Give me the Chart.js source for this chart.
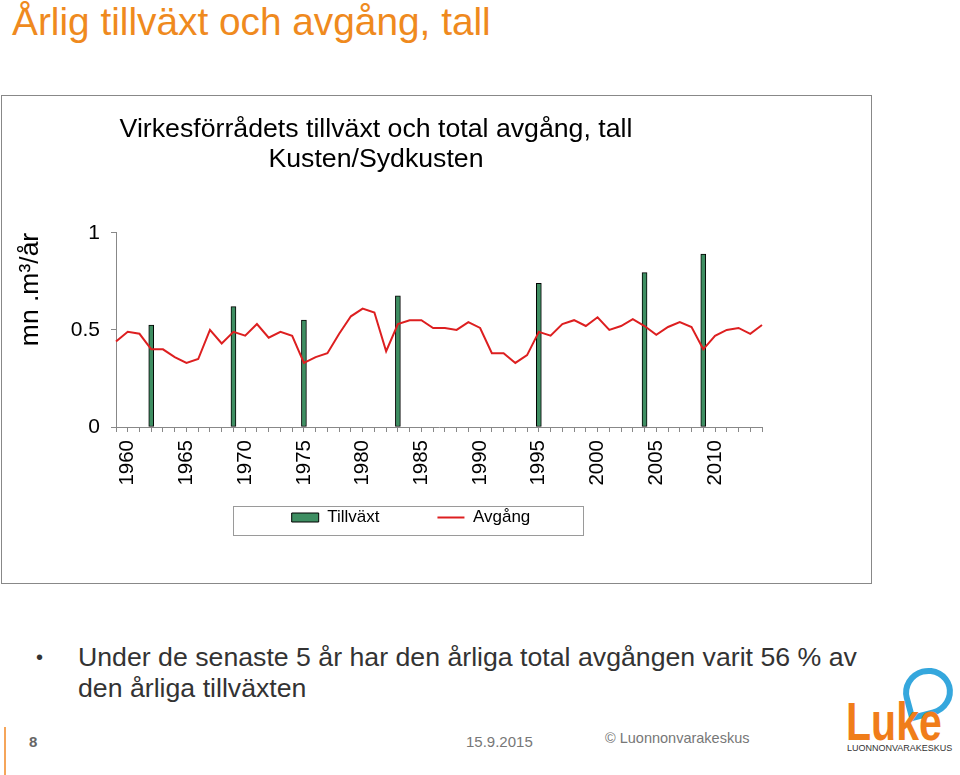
<!DOCTYPE html>
<html><head><meta charset="utf-8">
<script src="https://cdn.jsdelivr.net/npm/chart.js@4.4.1/dist/chart.umd.min.js"></script>
<style>
html,body{margin:0;padding:0;background:#fff;}
body{width:960px;height:775px;position:relative;overflow:hidden;font-family:"Liberation Sans",Arial,sans-serif;}
.abs{position:absolute;white-space:nowrap;}
</style></head><body>
<div class="abs" style="left:12px;top:3px;font-size:38.8px;line-height:38px;color:#EF8A1E;">Årlig tillväxt och avgång, tall</div>
<div class="abs" style="left:1px;top:95px;width:871px;height:489px;box-sizing:border-box;border:1px solid #888;"></div>
<canvas id="c" width="871" height="489" style="position:absolute;left:1px;top:95px;"></canvas>

<div class="abs" style="left:36px;top:642px;font-size:20px;line-height:31px;color:#333;">•</div>
<div class="abs" style="left:78px;top:642px;font-size:26.7px;line-height:31px;color:#333;">Under de senaste 5 år har den årliga total avgången varit 56 % av<br>den årliga tillväxten</div>

<div class="abs" style="left:4px;top:727px;width:2px;height:48px;background:#F5A55A;"></div>
<div class="abs" style="left:29px;top:733px;font-size:15px;line-height:18px;font-weight:bold;color:#666;">8</div>
<div class="abs" style="left:466px;top:733px;font-size:15px;line-height:18px;color:#777;">15.9.2015</div>
<div class="abs" style="left:605px;top:729px;font-size:14.5px;line-height:18px;color:#777;">© Luonnonvarakeskus</div>

<div class="abs" style="left:903px;top:668px;width:38px;height:36px;border:6px solid #35A7DD;border-radius:50% 50% 50% 0;transform:rotate(-15deg);"></div>
<div class="abs" style="left:846px;top:694px;font-size:54px;line-height:54px;font-weight:bold;color:#F07D1A;transform:scaleX(0.76);transform-origin:left top;">Luke</div>
<div class="abs" style="left:847px;top:743px;font-size:9px;line-height:10px;color:#333;">LUONNONVARAKESKUS</div>

<script>
const years = [1959,1960,1961,1962,1963,1964,1965,1966,1967,1968,1969,1970,1971,1972,1973,1974,1975,1976,1977,1978,1979,1980,1981,1982,1983,1984,1985,1986,1987,1988,1989,1990,1991,1992,1993,1994,1995,1996,1997,1998,1999,2000,2001,2002,2003,2004,2005,2006,2007,2008,2009,2010,2011,2012,2013,2014];
const tillvaxt = [null,null,null,0.525,null,null,null,null,null,null,0.62,null,null,null,null,null,0.55,null,null,null,null,null,null,null,0.675,null,null,null,null,null,null,null,null,null,null,null,0.74,null,null,null,null,null,null,null,null,0.795,null,null,null,null,0.89,null,null,null,null,null];
const avgang = [0.44,0.49,0.48,0.40,0.40,0.36,0.33,0.35,0.50,0.43,0.49,0.47,0.53,0.46,0.49,0.47,0.33,0.36,0.38,0.48,0.57,0.61,0.59,0.39,0.53,0.55,0.55,0.51,0.51,0.50,0.54,0.51,0.38,0.38,0.33,0.37,0.49,0.47,0.53,0.55,0.52,0.565,0.50,0.52,0.555,0.52,0.475,0.515,0.54,0.515,0.40,0.47,0.50,0.51,0.48,0.525];
const xLabelYears = [1960,1965,1970,1975,1980,1985,1990,1995,2000,2005,2010];
const yTicks = [0, 0.5, 1];

const FONT = "'Liberation Sans', Arial, sans-serif";

const positionPlugin = {
  id: 'positions',
  beforeDraw(chart) {
    const t = chart.titleBlock;
    if (t) { t.left = 375 - 420; t.right = 375 + 420; }
    const lg = chart.legend;
    if (lg) { lg.left = 410 - 300; lg.right = 410 + 300; lg.top = 356; lg.bottom = 356 + 100; }
  },
  afterDraw(chart) {
    const ctx = chart.ctx;
    ctx.save();
    ctx.strokeStyle = '#9a9a9a';
    ctx.lineWidth = 1;
    ctx.strokeRect(232.5, 411.5, 350, 29);
    ctx.restore();
  }
};

new Chart(document.getElementById('c'), {
  type: 'bar',
  data: {
    labels: years,
    datasets: [
      { type: 'bar', label: 'Tillväxt', data: tillvaxt, backgroundColor: '#3E8E62', borderColor: '#000', borderWidth: 1, borderSkipped: false, barThickness: 5, order: 1 },
      { type: 'line', label: 'Avgång', data: avgang, borderColor: '#DD1F20', backgroundColor: '#DD1F20', borderWidth: 2, pointRadius: 0, tension: 0, fill: false, order: 0 }
    ]
  },
  options: {
    responsive: false,
    animation: false,
    events: [],
    layout: { padding: { left: 0, right: 110, top: 0, bottom: 0 } },
    font: { family: FONT },
    scales: {
      x: {
        offset: false,
        grid: { offset: false, drawOnChartArea: false, drawTicks: true, tickLength: 5, color: '#888' },
        border: { display: true, color: '#888', width: 1 },
        ticks: {
          autoSkip: false, maxRotation: 90, minRotation: 90, padding: 8,
          font: { family: FONT, size: 20.5 }, color: '#000',
          callback: function(v, i) { const y = years[i]; return xLabelYears.includes(y) ? String(y) : ''; }
        },
        afterFit(scale) { scale.height = 80; }
      },
      y: {
        min: 0, max: 1,
        grid: { drawOnChartArea: false, drawTicks: true, tickLength: 5, color: '#888' },
        border: { display: true, color: '#888', width: 1 },
        afterBuildTicks(scale) { scale.ticks = yTicks.map(v => ({ value: v })); },
        ticks: { padding: 11, font: { family: FONT, size: 21 }, color: '#000', callback: v => String(v) },
        title: { display: true, text: 'mn .m³/år', align: 'end', color: '#000', font: { family: FONT, size: 26.5 }, padding: { top: 14, bottom: 0 } },
        afterFit(scale) { scale.width = 115; }
      }
    },
    plugins: {
      title: {
        display: true,
        text: ['Virkesförrådets tillväxt och total avgång, tall', 'Kusten/Sydkusten'],
        color: '#000',
        font: { family: FONT, size: 26.7, weight: 'normal', lineHeight: 1.12 },
        padding: { top: 20, bottom: 58 }
      },
      legend: {
        display: true,
        position: 'bottom',
        maxHeight: 77,
        labels: {
          color: '#000',
          font: { family: FONT, size: 17 },
          usePointStyle: true,
          pointStyleWidth: 27,
          boxHeight: 9,
          padding: 58,
          generateLabels(chart) {
            const items = Chart.defaults.plugins.legend.labels.generateLabels(chart);
            items.sort((a, b) => a.datasetIndex - b.datasetIndex);
            items.forEach(it => { it.pointStyle = it.datasetIndex === 0 ? 'rect' : 'line'; });
            return items;
          }
        }
      },
      tooltip: { enabled: false }
    }
  },
  plugins: [positionPlugin]
});
</script>
</body></html>
